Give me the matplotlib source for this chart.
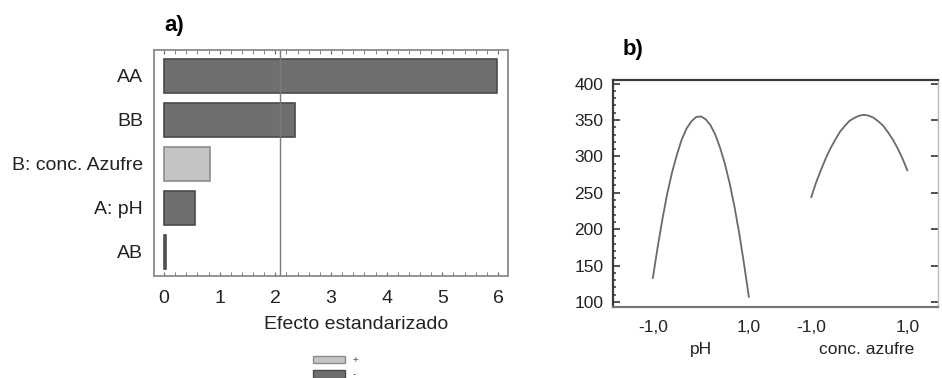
import matplotlib
matplotlib.use("Agg")
import matplotlib.pyplot as plt
from matplotlib.patches import Patch
from matplotlib.ticker import MultipleLocator

plt.rcParams["font.family"] = ["Liberation Sans", "DejaVu Sans"]

# a) Pareto de efectos estandarizados
terms = ["AA", "BB", "B: conc. Azufre", "A: pH", "AB"]
effects = [5.98, 2.35, 0.83, 0.56, 0.03]
signs = ["-", "-", "+", "-", "-"]
t_crit = 2.08

# b) Efectos principales (valores leidos de la figura)
coded = [-1.0, -0.9, -0.8, -0.7, -0.6, -0.5, -0.4, -0.3, -0.2, -0.1, 0.0,
         0.1, 0.2, 0.3, 0.4, 0.5, 0.6, 0.7, 0.8, 0.9, 1.0]
resp_ph = [133, 175, 214, 249, 278, 302, 323, 338, 348, 354, 355,
           351, 343, 330, 312, 290, 263, 231, 194, 152, 107]
resp_azufre = [244, 264, 281, 297, 311, 323, 334, 342, 349, 353, 356,
               357, 356, 353, 348, 342, 333, 323, 311, 297, 281]
factor_names = ["pH", "conc. azufre"]

DARK, DARK_EDGE = "#6f6f6f", "#4a4a4a"
LIGHT, LIGHT_EDGE = "#c4c4c4", "#8c8c8c"

fig = plt.figure(figsize=(9.42, 3.78), dpi=100)

# ---------- panel a ----------
ax = fig.add_axes([154 / 942, 1 - 276 / 378, 354 / 942, 226 / 378])
ypos = list(range(len(terms)))[::-1]
colors = [LIGHT if s == "+" else DARK for s in signs]
edges = [LIGHT_EDGE if s == "+" else DARK_EDGE for s in signs]
ax.barh(ypos, effects, height=0.77, color=colors, edgecolor=edges, linewidth=1.2)
ax.axvline(t_crit, color="#7a7a7a", lw=1.0)
ax.set_xlim(-0.18, 6.18)
ax.set_ylim(-0.55, 4.59)
ax.set_yticks(ypos)
ax.set_yticklabels(terms, fontsize=14, color="#222222")
ax.set_xticks(range(7))
ax.set_xticklabels([str(i) for i in range(7)], fontsize=14, color="#222222")
ax.xaxis.set_minor_locator(MultipleLocator(0.2))
ax.tick_params(axis="y", length=0, pad=8)
ax.tick_params(axis="x", which="both", direction="in", top=True, length=3,
               color="#666666", pad=10)
for sp in ax.spines.values():
    sp.set_color("#8a8a8a")
    sp.set_linewidth(1.3)
ax.set_xlabel("Efecto estandarizado", fontsize=14, color="#222222")
ax.xaxis.set_label_coords(0.57, -0.175)
fig.text(164 / 942, 1 - 25 / 378, "a)", fontsize=16, fontweight="bold",
         va="center", ha="left")

handles = [Patch(facecolor=LIGHT, edgecolor=LIGHT_EDGE, label="+"),
           Patch(facecolor=DARK, edgecolor=DARK_EDGE, label="-")]
fig.legend(handles=handles, loc="upper left", bbox_to_anchor=(306 / 942, 1 - 348 / 378),
           frameon=False, fontsize=7, handlelength=3.3, handleheight=0.85,
           labelspacing=0.45, handletextpad=0.8, labelcolor="#555555",
           borderpad=0.2)

# ---------- panel b ----------
bx = fig.add_axes([613 / 942, 1 - 307 / 378, 325 / 942, 227 / 378])
offset = 3.3
bx.plot(coded, resp_ph, color="#6a6a6a", lw=1.3)
bx.plot([c + offset for c in coded], resp_azufre, color="#6a6a6a", lw=1.3)
bx.set_xlim(-1.83, 4.94)
bx.set_ylim(93, 405)
bx.set_yticks(range(100, 401, 50))
bx.set_yticklabels([str(v) for v in range(100, 401, 50)], fontsize=12.5, color="#222222")
bx.yaxis.set_minor_locator(MultipleLocator(10))
bx.tick_params(axis="y", which="major", direction="in", length=5, width=1.2,
               color="#333333", pad=7, right=True)
bx.tick_params(axis="y", which="minor", direction="in", length=2.5, width=1.2,
               color="#444444", right=False)
bx.set_xticks([-1, 1, offset - 1, offset + 1])
bx.set_xticklabels(["-1,0", "1,0", "-1,0", "1,0"], fontsize=12.5, color="#222222")
bx.tick_params(axis="x", length=0, pad=9)
for name, sp in bx.spines.items():
    sp.set_color("#3a3a3a")
    sp.set_linewidth(1.6)
bx.spines["right"].set_color("#bbbbbb")
bx.spines["right"].set_linewidth(1.0)
bx.spines["bottom"].set_color("#777777")
for xc, name in zip([0.0, offset + 0.15], factor_names):
    bx.text(xc, -0.155, name, transform=bx.get_xaxis_transform(), ha="center",
            va="top", fontsize=12.5, color="#222222")
fig.text(623 / 942, 1 - 50 / 378, "b)", fontsize=16, fontweight="bold",
         va="center", ha="left")

fig.savefig("out.png", dpi=100)
